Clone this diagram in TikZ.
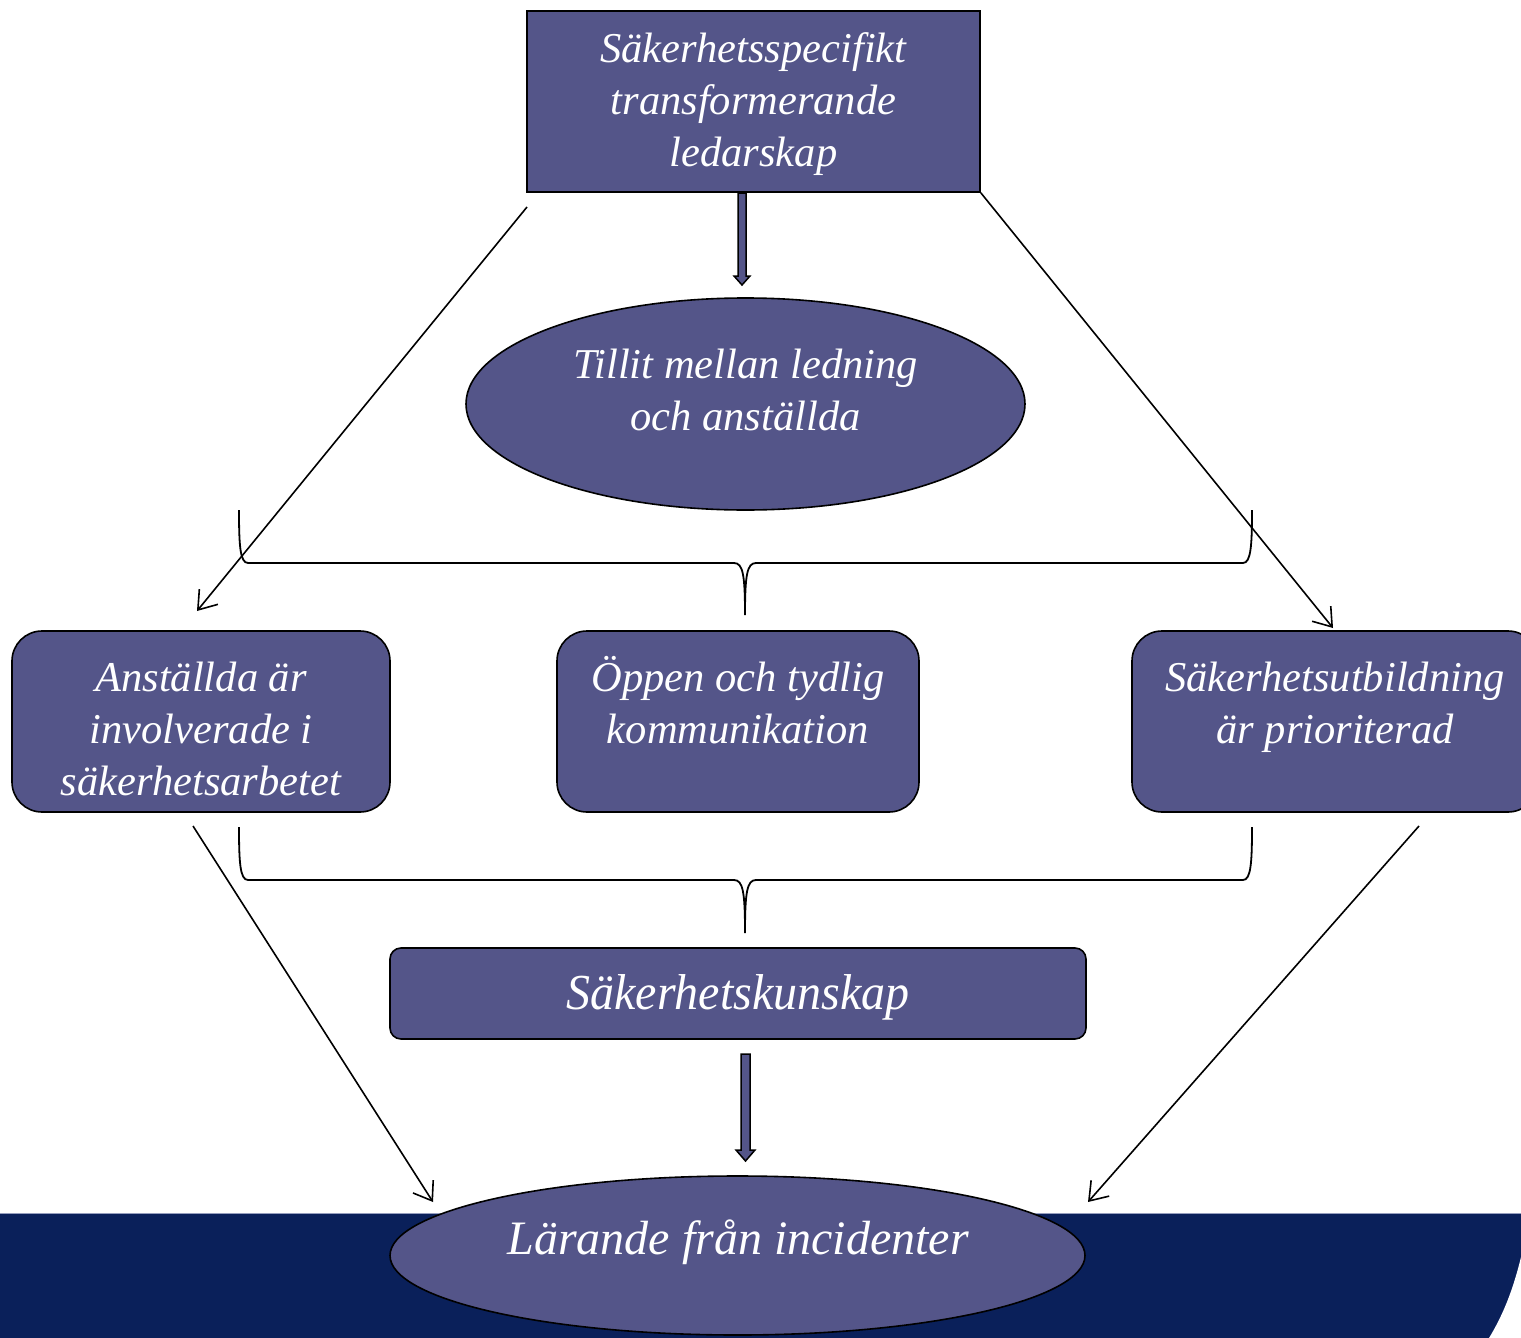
\documentclass[tikz,border=0pt]{standalone}
\usepackage{fontspec}
\setmainfont{Liberation Serif}
\usetikzlibrary{arrows.meta,shapes.geometric,calc}
\definecolor{boxfill}{RGB}{84,85,137}
\definecolor{band}{RGB}{10,32,90}
\definecolor{bandedge}{RGB}{150,158,190}
\begin{document}
\begin{tikzpicture}[x=1pt,y=-1pt,
  shapebox/.style={draw=black, line width=1.6pt, fill=boxfill, inner sep=0pt},
  txt/.style={text=white, font=\fontsize{42.5}{52}\selectfont\itshape, align=center, inner sep=0pt},
  bigtxt/.style={text=white, font=\fontsize{48}{56}\selectfont\itshape, align=center, inner sep=0pt},
  link/.style={draw=black, line width=1.6pt, -{Straight Barb[length=17pt,width=24pt,line width=1.6pt]}},
  bracepath/.style={draw=black, line width=1.8pt},
  blockarrow/.style={draw=black, line width=1.5pt, fill=boxfill, line join=miter}
]
\useasboundingbox (0,0) rectangle (1521,1338);
\clip (0,0) rectangle (1521,1338);

% bottom band
\fill[band] (0,1213) rectangle (1521,1338);
\draw[bandedge, line width=1pt] (0,1213) -- (1521,1213);
\fill[white] (1521,1257) .. controls (1513,1290) and (1503,1315) .. (1489,1338) -- (1521,1338) -- cycle;

% main shapes
\node[shapebox, rectangle, minimum width=453pt, minimum height=181pt] (lead) at (753.5,101.5) {};
\node[txt] (leadtxt) at (753.5,104.5) {Säkerhetsspecifikt\\transformerande\\ledarskap};

\node[shapebox, ellipse, minimum width=559pt, minimum height=212pt] (trust) at (745.5,404) {};
\node[txt] (trusttxt) at (745.5,390) {Tillit mellan ledning\\och anställda};

\node[shapebox, rectangle, rounded corners=30pt, minimum width=378pt, minimum height=181pt] (inv) at (201,721.5) {};
\node[txt] (invtxt) at (201,729) {Anställda är\\involverade i\\säkerhetsarbetet};

\node[shapebox, rectangle, rounded corners=30pt, minimum width=362pt, minimum height=181pt] (comm) at (738,721.5) {};
\node[txt] (commtxt) at (738,700) {Öppen och tydlig\\kommunikation};

\node[shapebox, rectangle, rounded corners=30pt, minimum width=406pt, minimum height=181pt] (edu) at (1335,721.5) {};
\node[txt] (edutxt) at (1335,707) {Säkerhetsutbildning\\är prioriterad};

\node[shapebox, rectangle, rounded corners=11pt, minimum width=696pt, minimum height=91pt] (know) at (738,993.5) {};
\node[bigtxt, yscale=1.05] (knowtxt) at (738,997) {Säkerhetskunskap};

\node[shapebox, ellipse, minimum width=695pt, minimum height=159pt] (learn) at (737.5,1255.5) {};
\node[bigtxt] (learntxt) at (738,1242) {Lärande från incidenter};

% block arrows
\coordinate (a1s) at (742,193);
\coordinate (a1e) at (742,285);
\draw[blockarrow] ($(a1s)+(-4,0)$) -- ($(a1e)+(-4,-9)$) -- ($(a1e)+(-8,-9)$) -- (a1e)
  -- ($(a1e)+(8,-9)$) -- ($(a1e)+(4,-9)$) -- ($(a1s)+(4,0)$) -- cycle;
\coordinate (a2s) at (745.5,1054);
\coordinate (a2e) at (745.5,1161);
\draw[blockarrow] ($(a2s)+(-4.5,0)$) -- ($(a2e)+(-4.5,-11)$) -- ($(a2e)+(-9.5,-11)$) -- (a2e)
  -- ($(a2e)+(9.5,-11)$) -- ($(a2e)+(4.5,-11)$) -- ($(a2s)+(4.5,0)$) -- cycle;

% thin arrows
\coordinate (l1s) at (527,207);
\coordinate (l1e) at (197,611);
\coordinate (r1s) at (lead.south east);
\coordinate (r1e) at (1333,628);
\coordinate (l2s) at (193,826);
\coordinate (l2e) at (433,1202);
\coordinate (r2s) at (1419,826);
\coordinate (r2e) at (1088,1202);
\draw[link] (l1s) -- (l1e);
\draw[link] (r1s) -- (r1e);
\draw[link] (l2s) -- (l2e);
\draw[link] (r2s) -- (r2e);

% braces
\coordinate (b1l) at (239,510);
\coordinate (b1r) at (1252,510);
\coordinate (b1t) at (745,615);
\draw[bracepath] (b1l) .. controls (239,545) and (240,563) .. (248,563) -- (734,563)
  .. controls (743,563) and (745,575) .. (b1t)
  .. controls (745,575) and (747,563) .. (756,563) -- (1243,563)
  .. controls (1251,563) and (1252,545) .. (b1r);

\coordinate (b2l) at (239,827);
\coordinate (b2r) at (1252,827);
\coordinate (b2t) at (745,933);
\draw[bracepath] (b2l) .. controls (239,862) and (240,880) .. (248,880) -- (734,880)
  .. controls (743,880) and (745,892) .. (b2t)
  .. controls (745,892) and (747,880) .. (756,880) -- (1243,880)
  .. controls (1251,880) and (1252,862) .. (b2r);
\end{tikzpicture}
\end{document}
